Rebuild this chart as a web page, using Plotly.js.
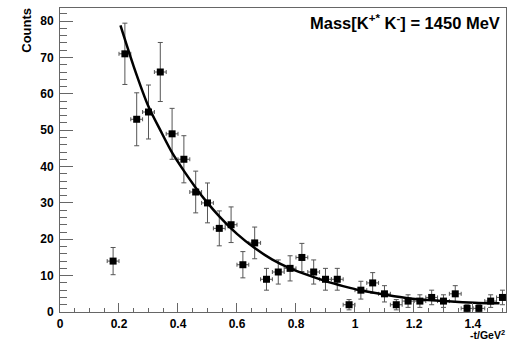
<!DOCTYPE html>
<html>
<head>
<meta charset="utf-8">
<script src="https://cdn.plot.ly/plotly-3.0.1.min.js"></script>
<style>html,body{margin:0;padding:0;background:#fff;}#chart{width:510px;height:345px;}</style>
</head>
<body>
<div id="chart"></div>
<script>
// Data
const tValues = [0.18, 0.22, 0.26, 0.30, 0.34, 0.38, 0.42, 0.46, 0.50, 0.54, 0.58, 0.62, 0.66, 0.70, 0.74, 0.78, 0.82, 0.86, 0.90, 0.94, 0.98, 1.02, 1.06, 1.10, 1.14, 1.18, 1.22, 1.26, 1.30, 1.34, 1.38, 1.42, 1.46, 1.50];
const counts = [14, 71, 53, 55, 66, 49, 42, 33, 30, 23, 24, 13, 19, 9, 11, 12, 15, 11, 9, 9, 2, 6, 8, 5, 2, 3, 3, 4, 3, 5, 1, 1, 3, 4];
const countErrors = [3.74, 8.43, 7.28, 7.42, 8.12, 7.0, 6.48, 5.74, 5.48, 4.8, 4.9, 3.61, 4.36, 3.0, 3.32, 3.46, 3.87, 3.32, 3.0, 3.0, 1.41, 2.45, 2.83, 2.24, 1.41, 1.73, 1.73, 2.0, 1.73, 2.24, 1.0, 1.0, 1.73, 2.0];
const binHalfWidth = [0.02];
const fitT = [0.205, 0.25, 0.30, 0.34, 0.38, 0.42, 0.46, 0.50, 0.54, 0.60, 0.66, 0.72, 0.78, 0.86, 0.92, 0.98, 1.02, 1.10, 1.18, 1.26, 1.34, 1.42, 1.49];
const fitCounts = [78.8, 67.5, 56.5, 50.0, 43.8, 38.8, 34.2, 30.0, 26.3, 21.5, 17.6, 14.4, 12.0, 9.6, 8.0, 6.7, 5.9, 4.8, 3.8, 3.2, 2.8, 2.5, 2.4];
const xTickVals = [0, 0.2, 0.4, 0.6, 0.8, 1.0, 1.2, 1.4];
const xTickText = ['0', '0.2', '0.4', '0.6', '0.8', '1', '1.2', '1.4'];
const yTickVals = [0, 10, 20, 30, 40, 50, 60, 70, 80];
const yTickText = ['0', '10', '20', '30', '40', '50', '60', '70', '80'];
const titleText = 'Mass[K<sup>+*</sup> K<sup>-</sup>] = 1450 MeV';
const xTitleText = '-t/GeV<sup>2</sup>';
const yTitleText = 'Counts';

const FONT = 'Liberation Sans, Arial, Helvetica, sans-serif';
const AX = '#666666';
const bold = s => '<b>' + s + '</b>';

const traces = [
  {
    type: 'scatter', mode: 'markers',
    x: tValues, y: counts,
    marker: {symbol: 'square', size: 7, color: '#000'},
    error_y: {type: 'data', array: countErrors, visible: true, color: '#555', thickness: 1, width: 2.5},
    error_x: {type: 'data', array: tValues.map(() => binHalfWidth[0]), visible: true, color: '#555', thickness: 1, width: 2},
    showlegend: false, hoverinfo: 'skip'
  },
  {
    type: 'scatter', mode: 'lines',
    x: fitT, y: fitCounts,
    line: {color: '#000', width: 2.5, shape: 'spline', smoothing: 0.8},
    showlegend: false, hoverinfo: 'skip'
  }
];

const layout = {
  width: 510, height: 345,
  margin: {l: 60, r: 4, t: 8, b: 33, pad: 0},
  paper_bgcolor: '#fff', plot_bgcolor: '#fff',
  font: {family: FONT, color: '#000'},
  xaxis: {
    range: [0, 1.512], autorange: false,
    tickmode: 'array', tickvals: xTickVals, ticktext: xTickText.map(bold),
    ticks: 'inside', ticklen: 9, tickwidth: 1, tickcolor: AX,
    minor: {ticks: 'inside', ticklen: 4, dtick: 0.05, tick0: 0, tickcolor: AX, tickwidth: 1, showgrid: false},
    showline: true, linecolor: AX, linewidth: 1, mirror: true,
    showgrid: false, zeroline: false,
    tickfont: {family: FONT, size: 12, color: '#000'},
    ticklabelstandoff: 1
  },
  yaxis: {
    range: [0, 83.6], autorange: false,
    tickmode: 'array', tickvals: yTickVals, ticktext: yTickText.map(bold),
    ticks: 'inside', ticklen: 13, tickwidth: 1, tickcolor: AX,
    minor: {ticks: 'inside', ticklen: 7, dtick: 2, tick0: 0, tickcolor: AX, tickwidth: 1, showgrid: false},
    showline: true, linecolor: AX, linewidth: 1, mirror: true,
    showgrid: false, zeroline: false,
    tickfont: {family: FONT, size: 12, color: '#000'},
    ticklabelstandoff: 3
  },
  annotations: [
    {
      text: bold(titleText), xref: 'paper', yref: 'paper',
      x: 0.99, y: 0.955, xanchor: 'right', yanchor: 'middle', showarrow: false,
      font: {family: FONT, size: 16.5, color: '#000'}
    },
    {
      text: bold(xTitleText), xref: 'paper', yref: 'paper',
      x: 1.003, y: -0.074, xanchor: 'right', yanchor: 'middle', showarrow: false,
      font: {family: FONT, size: 10.5, color: '#000'}
    },
    {
      text: bold(yTitleText), xref: 'paper', yref: 'paper', textangle: -90,
      x: -0.075, y: 0.927, xanchor: 'center', yanchor: 'middle', showarrow: false,
      font: {family: FONT, size: 13, color: '#000'}
    }
  ]
};

Plotly.newPlot('chart', traces, layout, {staticPlot: true, displayModeBar: false});
</script>
</body>
</html>
